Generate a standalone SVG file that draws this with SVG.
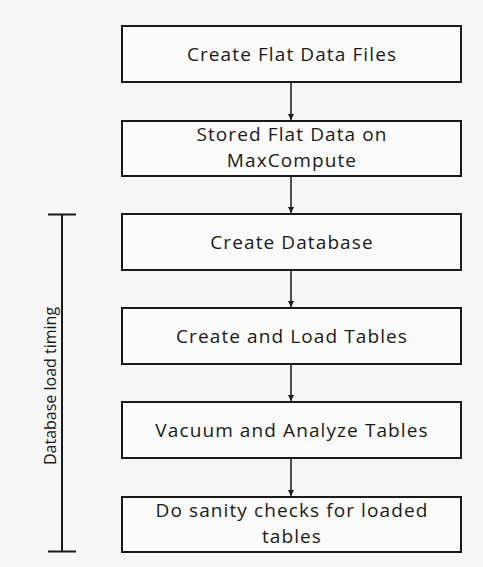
<svg xmlns="http://www.w3.org/2000/svg" width="483" height="567" viewBox="0 0 483 567">
<defs>
<style>
.box{fill:#fbfbfb;stroke:#1a1a1a;stroke-width:2}
.t{font-family:"Open Sans","Noto Sans","Liberation Sans",sans-serif;font-size:19px;letter-spacing:1.1px;fill:#1a1a1a;text-anchor:middle}
.c{stroke:#1a1a1a;stroke-width:1.5;fill:none}
</style>
<marker id="ah" viewBox="0 0 10 10" refX="10" refY="5" markerWidth="6" markerHeight="6" orient="auto" markerUnits="userSpaceOnUse"><path d="M0,0 L10,5 L0,10 z" fill="#1a1a1a"/></marker>
</defs>
<rect width="483" height="567" fill="#f6f6f6"/>
<g id="n1"><rect class="box" x="122" y="26" width="339" height="56"/><text class="t" x="292" y="61">Create Flat Data Files</text></g>
<g id="n2"><rect class="box" x="122" y="121" width="339" height="55"/><text class="t" x="292" y="141">Stored Flat Data on</text><text class="t" x="292" y="167">MaxCompute</text></g>
<g id="n3"><rect class="box" x="122" y="214" width="339" height="56"/><text class="t" x="292" y="249">Create Database</text></g>
<g id="n4"><rect class="box" x="122" y="308" width="339" height="56"/><text class="t" x="292" y="343">Create and Load Tables</text></g>
<g id="n5"><rect class="box" x="122" y="402" width="339" height="56"/><text class="t" x="292" y="437">Vacuum and Analyze Tables</text></g>
<g id="n6"><rect class="box" x="122" y="497" width="339" height="55"/><text class="t" x="292" y="517">Do sanity checks for loaded</text><text class="t" x="292" y="543">tables</text></g>
<g id="bracket"><path class="c" d="M48,214.5 H76 M62,214.5 V551.5 M48,551.5 H76" style="stroke-width:2"/><text class="t" style="font-size:16px;letter-spacing:0" transform="translate(55.5,386) rotate(-90)">Database load timing</text></g>
<g id="connectors">
<line class="c" x1="291" y1="82" x2="291" y2="120" marker-end="url(#ah)"/>
<line class="c" x1="291" y1="176" x2="291" y2="213" marker-end="url(#ah)"/>
<line class="c" x1="291" y1="270" x2="291" y2="307" marker-end="url(#ah)"/>
<line class="c" x1="291" y1="364" x2="291" y2="401" marker-end="url(#ah)"/>
<line class="c" x1="291" y1="458" x2="291" y2="496" marker-end="url(#ah)"/>
</g>
</svg>
